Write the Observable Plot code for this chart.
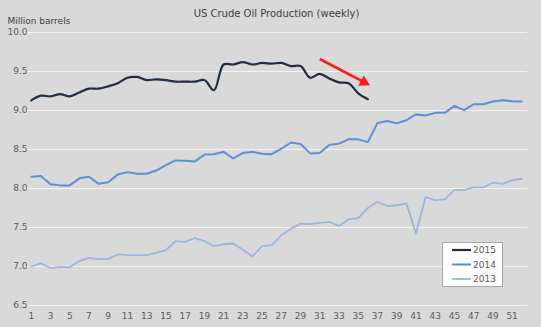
<!DOCTYPE html>
<html><head><meta charset="utf-8">
<script src="https://cdn.jsdelivr.net/npm/d3@7"></script>
<script src="https://cdn.jsdelivr.net/npm/@observablehq/plot@0.6"></script>
<style>
html,body{margin:0;padding:0;background:#d9d9d9;}
#wrap{position:relative;width:541px;height:327px;overflow:hidden;}
#legend{position:absolute;left:442px;top:242px;width:61px;height:45px;background:#fff;border:1.5px solid #a6a6a6;box-sizing:border-box;}
</style></head><body><div id="wrap"></div>
<script>
const titleText = "US Crude Oil Production (weekly)";
const unitText = "Million barrels";
const seriesNames = ["2015", "2014", "2013"];
const seriesColors = ["#1f2d42", "#5b8ed6", "#97b6dd"];
const seriesWidths = [2.2, 2, 1.8];

const prod2015 = [9.13, 9.19, 9.18, 9.21, 9.18, 9.23, 9.28, 9.28, 9.31, 9.35,
  9.42, 9.43, 9.39, 9.40, 9.39, 9.37, 9.37, 9.37, 9.39, 9.26,
  9.59, 9.59, 9.62, 9.59, 9.61, 9.60, 9.61, 9.57, 9.57, 9.42,
  9.47, 9.41, 9.36, 9.35, 9.22, 9.145];
const prod2014 = [8.15, 8.16, 8.055, 8.04, 8.04, 8.13, 8.15, 8.06, 8.08, 8.18,
  8.21, 8.19, 8.19, 8.23, 8.30, 8.36, 8.355, 8.345, 8.435, 8.44,
  8.47, 8.385, 8.455, 8.47, 8.445, 8.44, 8.51, 8.59, 8.57, 8.45,
  8.455, 8.56, 8.575, 8.63, 8.63, 8.595, 8.84, 8.865, 8.835, 8.875,
  8.95, 8.935, 8.97, 8.97, 9.06, 9.005, 9.08, 9.08, 9.115, 9.13,
  9.12, 9.115];
const prod2013 = [7.00, 7.04, 6.98, 6.995, 6.99, 7.07, 7.11, 7.095, 7.095, 7.155,
  7.145, 7.145, 7.145, 7.175, 7.21, 7.325, 7.315, 7.365, 7.325, 7.26,
  7.285, 7.295, 7.215, 7.13, 7.26, 7.27, 7.40, 7.485, 7.55, 7.545,
  7.56, 7.57, 7.52, 7.605, 7.62, 7.75, 7.83, 7.775, 7.785, 7.81,
  7.425, 7.89, 7.85, 7.86, 7.98, 7.98, 8.015, 8.015, 8.075, 8.06,
  8.105, 8.125];

const xTicks = [1, 3, 5, 7, 9, 11, 13, 15, 17, 19, 21, 23, 25, 27, 29, 31, 33, 35, 37, 39, 41, 43, 45, 47, 49, 51];
const yTicks = [6.5, 7.0, 7.5, 8.0, 8.5, 9.0, 9.5, 10.0];
// annotation arrow: shaft start, head position (data coordinates)
const arrowShaft = [{x1: 31.0, y1: 9.66, x2: 35.6, y2: 9.363}];
const arrowHead = [{x: 35.6, y: 9.363}];

const rowsFor = (arr, name) => arr.map((v, i) => ({week: i + 1, value: v, series: name}));

const chart = Plot.plot({
  width: 541, height: 327,
  marginTop: 32, marginBottom: 22, marginLeft: 25, marginRight: 14,
  style: {background: "#d9d9d9", fontFamily: "DejaVu Sans", fontSize: "9px", color: "#595959"},
  x: {domain: [0.4, 52.6]},
  y: {domain: [6.5, 10]},
  marks: [
    Plot.ruleY(yTicks, {stroke: "#f2f2f2", strokeWidth: 1}),
    Plot.axisY({ticks: yTicks, tickSize: 0, tickPadding: 0, dx: 2, tickFormat: d3.format(".1f"), label: null}),
    Plot.axisX({ticks: xTicks, tickSize: 0, tickPadding: 7, label: null}),
    Plot.line(rowsFor(prod2013, "2013"), {x: "week", y: "value", stroke: seriesColors[2], strokeWidth: seriesWidths[2]}),
    Plot.line(rowsFor(prod2014, "2014"), {x: "week", y: "value", stroke: seriesColors[1], strokeWidth: seriesWidths[1]}),
    Plot.line(rowsFor(prod2015, "2015"), {x: "week", y: "value", stroke: seriesColors[0], strokeWidth: seriesWidths[0], curve: "catmull-rom"}),
    Plot.link(arrowShaft, {x1: "x1", y1: "y1", x2: "x2", y2: "y2", stroke: "#ff1a1a", strokeWidth: 2.6}),
    Plot.dot(arrowHead, {x: "x", y: "y", symbol: "triangle", r: 4.3, fill: "#ff1a1a", stroke: "none", rotate: 117.5}),
    Plot.text([titleText], {frameAnchor: "top", dy: -23, fontSize: 10, fill: "#404040"}),
    Plot.text([unitText], {frameAnchor: "top-left", textAnchor: "start", dx: -18, dy: -15, fontSize: 9, fill: "#404040"})
  ]
});
const wrap = document.getElementById("wrap");
wrap.appendChild(chart);

const legend = document.createElement("div");
legend.id = "legend";
wrap.appendChild(legend);
const lsvg = d3.select(legend).append("svg").attr("width", 58).attr("height", 42)
  .style("position", "absolute").style("left", "0px").style("top", "0px");
seriesNames.forEach((name, i) => {
  const cy = 7 + i * 14.5;
  lsvg.append("line").attr("x1", 9).attr("x2", 28).attr("y1", cy).attr("y2", cy)
    .attr("stroke", seriesColors[i]).attr("stroke-width", seriesWidths[i]);
  lsvg.append("text").attr("x", 30).attr("y", cy).attr("dy", "0.35em")
    .attr("font-family", "DejaVu Sans").attr("font-size", 9).attr("fill", "#595959").text(name);
});
</script>
</body></html>
